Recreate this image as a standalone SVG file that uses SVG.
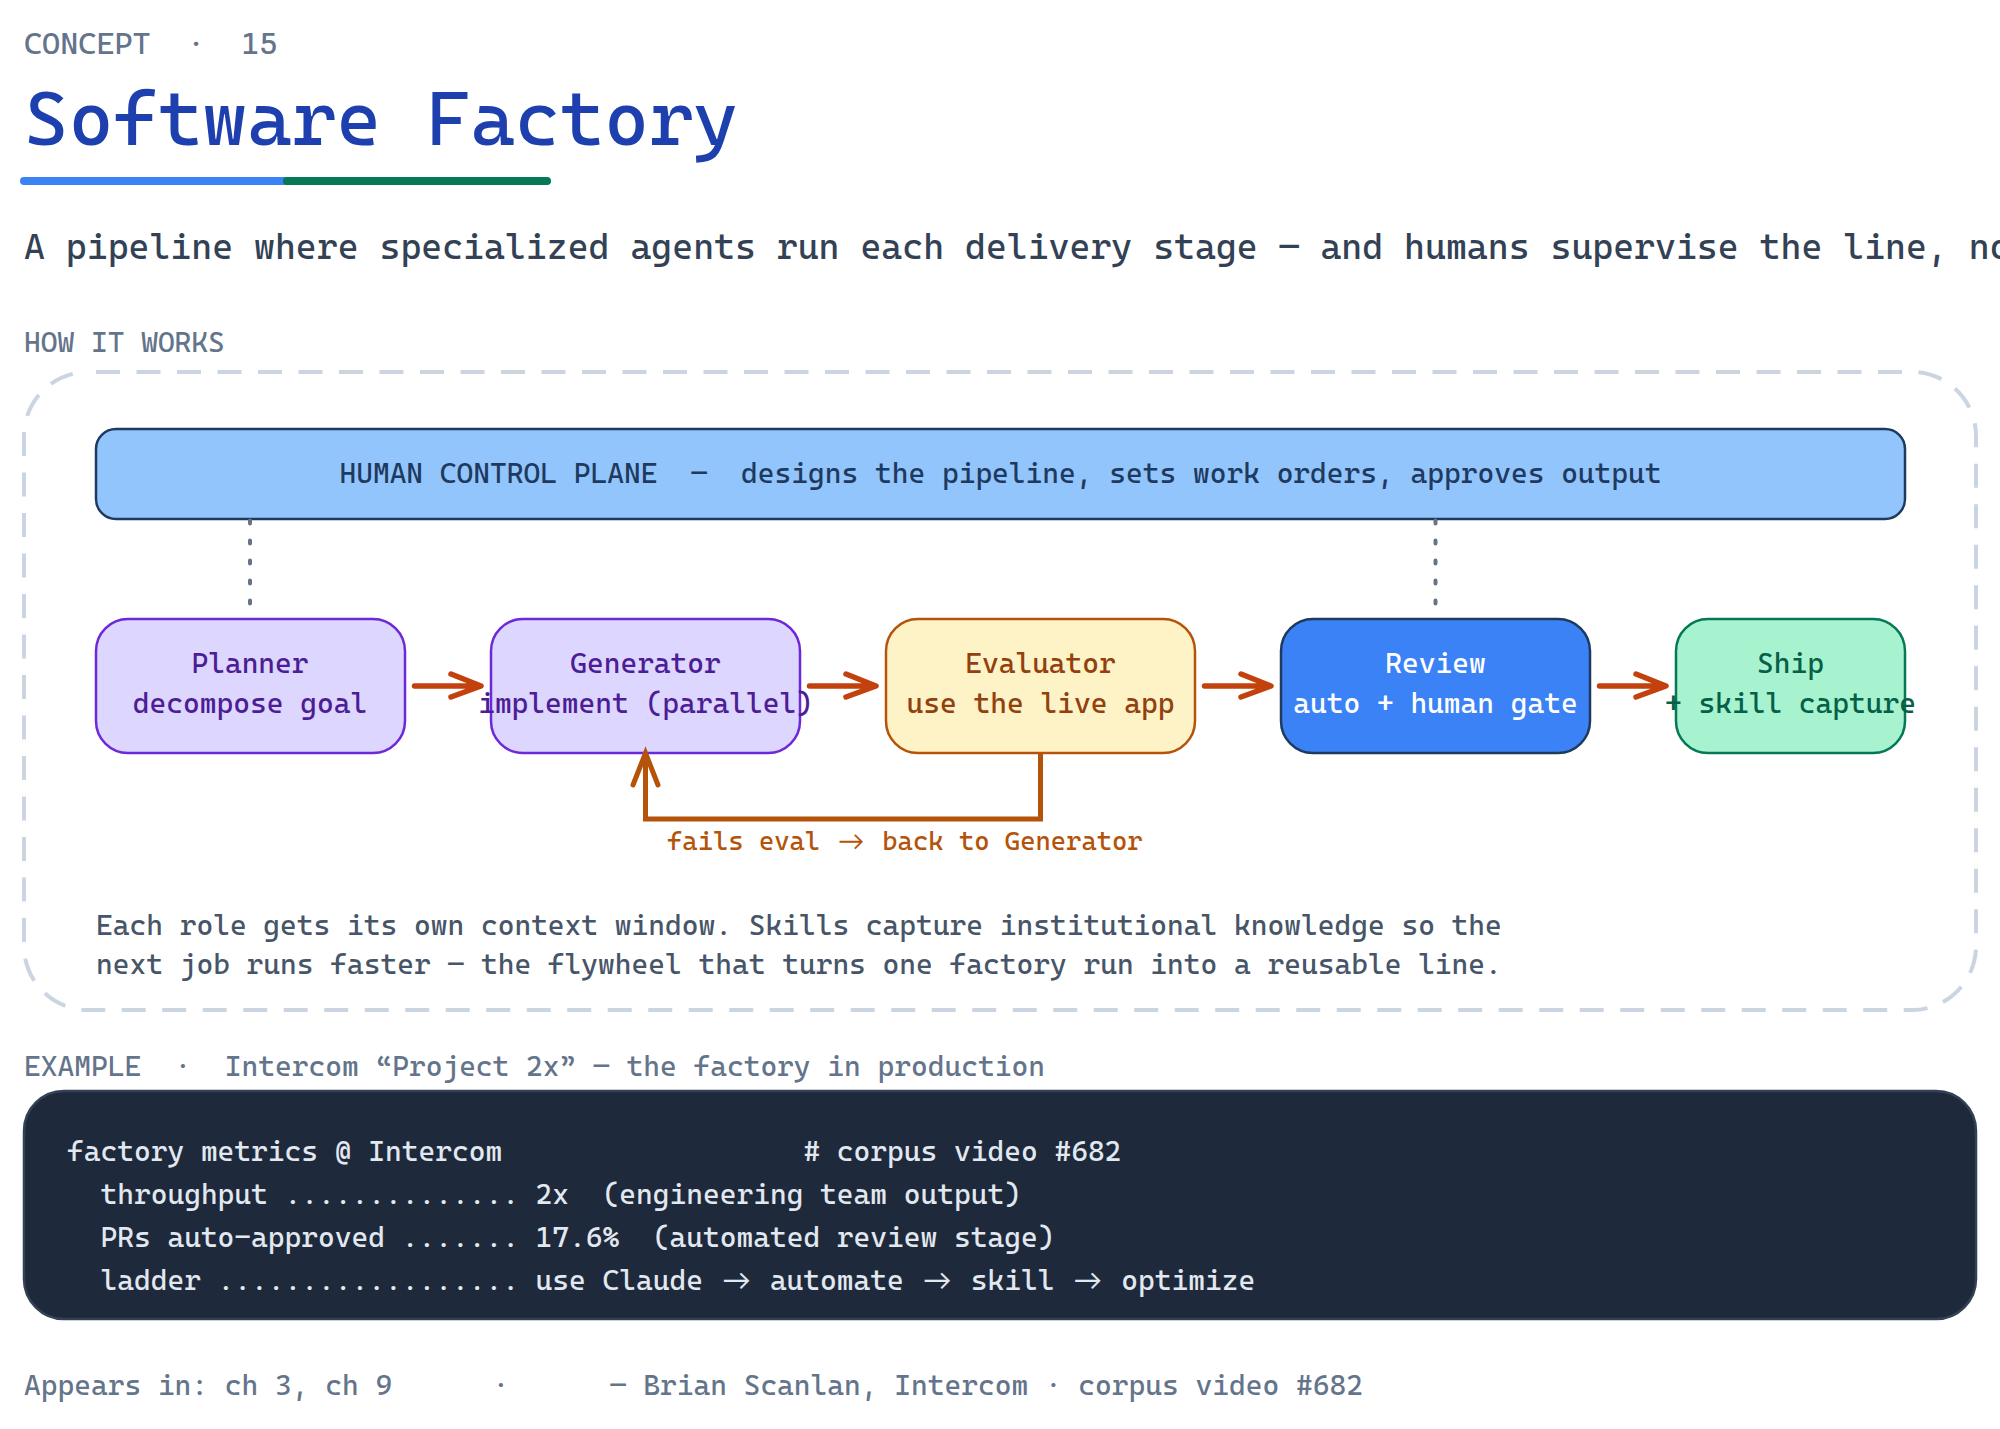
<svg xmlns="http://www.w3.org/2000/svg" width="2000" height="1429" viewBox="0 0 2000 1429">
<style>
text{font-family:"Cascadia Code","DejaVu Sans Mono",monospace;white-space:pre;font-size:28.57px;font-weight:400}
.ar{font-family:"Lato",sans-serif;font-weight:400;font-size:28.55px}
.m{text-anchor:middle}
.muted{fill:#64748b}
.box{stroke-width:2.5}
.arr{fill:none;stroke:#c2410c;stroke-width:5.5;stroke-linecap:round;stroke-linejoin:round}
.loop{fill:none;stroke:#b45309;stroke-width:5}
.dot{fill:none;stroke:#64748b;stroke-width:4;stroke-dasharray:3 17;stroke-linecap:round}
</style>
<rect width="2000" height="1429" fill="#ffffff"/>
<g id="header">
<text class="muted" x="24" y="54" style="font-size:30.9px">CONCEPT  ·  15</text>
<text x="24" y="145" fill="#1e40af" style="font-size:76.2px">Software Factory</text>
<rect x="20" y="177" width="270" height="8" rx="4" fill="#3b82f6"/>
<rect x="283" y="177" width="268" height="8" rx="4" fill="#047857"/>
<text x="24" y="258.500" fill="#334155" style="font-size:35.7px">A pipeline where specialized agents run each delivery stage — and humans supervise the line, no</text>
<text class="muted" x="24" y="352">HOW IT WORKS</text>
</g>
<g id="frame"><rect x="24" y="372" width="1952" height="638" rx="64" fill="none" stroke="#cbd5e1" stroke-width="4" stroke-dasharray="24 16.5" stroke-dashoffset="-8"/></g>
<g id="control-plane"><rect class="box" x="96" y="429" width="1809" height="90" rx="20" fill="#93c5fd" stroke="#1e3a5f"/>
<text class="m" x="1000.5" y="483" fill="#1e3a5f">HUMAN CONTROL PLANE  —  designs the pipeline, sets work orders, approves output</text></g>
<g id="planner"><rect class="box" x="96" y="619" width="309" height="134" rx="32" fill="#ddd6fe" stroke="#6d28d9"/>
<text class="m" x="250" y="673" fill="#4c1d95">Planner</text><text class="m" x="250" y="713" fill="#4c1d95">decompose goal</text></g>
<g id="generator"><rect class="box" x="491" y="619" width="309" height="134" rx="32" fill="#ddd6fe" stroke="#6d28d9"/>
<text class="m" x="645.5" y="673" fill="#4c1d95">Generator</text><text class="m" x="645.5" y="713" fill="#4c1d95">implement (parallel)</text></g>
<g id="evaluator"><rect class="box" x="886" y="619" width="309" height="134" rx="32" fill="#fef3c7" stroke="#b45309"/>
<text class="m" x="1040.5" y="673" fill="#92400e">Evaluator</text><text class="m" x="1040.5" y="713" fill="#92400e">use the live app</text></g>
<g id="review"><rect class="box" x="1281" y="619" width="309" height="134" rx="32" fill="#3b82f6" stroke="#1e3a5f"/>
<text class="m" x="1435.5" y="673" fill="#ffffff">Review</text><text class="m" x="1435.5" y="713" fill="#ffffff">auto + human gate</text></g>
<g id="ship"><rect class="box" x="1676" y="619" width="229" height="134" rx="32" fill="#a7f3d0" stroke="#047857"/>
<text class="m" x="1790.5" y="673" fill="#065f46">Ship</text><text class="m" x="1790.5" y="713" fill="#065f46">+ skill capture</text></g>
<g id="connectors">
<path class="dot" d="M250 520.500V605"/>
<path class="dot" d="M1435.500 520.500V605"/>
<path class="arr" d="M414.500 686H479M451 674L481 686L451 697"/>
<path class="arr" d="M809.500 686H874M846 674L876 686L846 697"/>
<path class="arr" d="M1204.500 686H1269M1241 674L1271 686L1241 697"/>
<path class="arr" d="M1599.500 686H1664M1636 674L1666 686L1636 697"/>
<path class="loop" d="M1040.500 753V819H645.500V756"/>
<path class="loop" stroke-linecap="round" d="M633 785L645.500 753L658 785"/>
</g>
<g id="loop-label"><text x="667" y="850" fill="#b45309" style="font-size:26.150px">fails eval <tspan class="ar" dx="2.500" style="font-size:26.400px">→</tspan><tspan dx="2.600"> back to Generator</tspan></text></g>
<g id="note">
<text x="96" y="935" fill="#475569">Each role gets its own context window. Skills capture institutional knowledge so the</text>
<text x="96" y="974" fill="#475569">next job runs faster — the flywheel that turns one factory run into a reusable line.</text>
</g>
<g id="example">
<text class="muted" x="24" y="1076">EXAMPLE  ·  Intercom “Project 2x” — the factory in production</text>
<rect x="24" y="1091" width="1952" height="228" rx="40" fill="#1e293b" stroke="#334155" stroke-width="2.5"/>
<text x="67" y="1161" fill="#e2e8f0">factory metrics @ Intercom                  # corpus video #682</text>
<text x="67" y="1204" fill="#e2e8f0">  throughput .............. 2x  (engineering team output)</text>
<text x="67" y="1246.500" fill="#e2e8f0">  PRs auto-approved ....... 17.6%  (automated review stage)</text>
<text x="67" y="1289.500" fill="#e2e8f0">  ladder .................. use Claude <tspan class="ar" dx="2.450">→</tspan><tspan dx="2.450"> automate </tspan><tspan class="ar" dx="2.450">→</tspan><tspan dx="2.450"> skill </tspan><tspan class="ar" dx="2.450">→</tspan><tspan dx="2.450"> optimize</tspan></text>
</g>
<g id="footer"><text class="muted" x="24" y="1395">Appears in: ch 3, ch 9      ·      — Brian Scanlan, Intercom · corpus video #682</text></g>
</svg>
